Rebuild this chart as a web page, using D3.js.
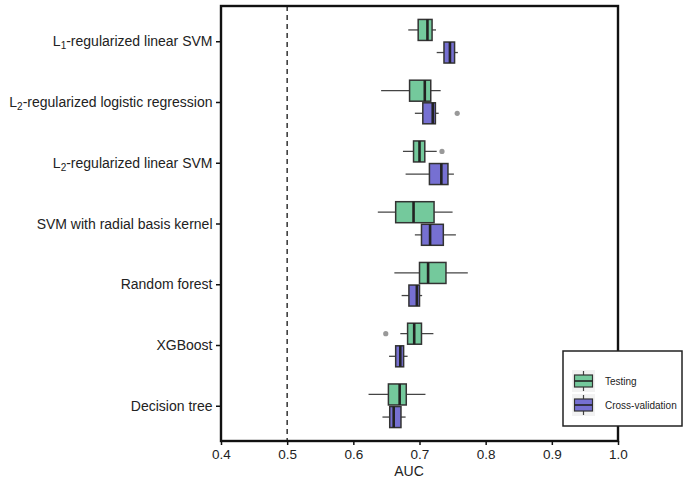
<!DOCTYPE html>
<html>
<head>
<meta charset="utf-8">
<script src="https://cdn.jsdelivr.net/npm/d3@7"></script>
<style>
  body { margin: 0; background: #fff; }
  text { font-family: "Liberation Sans", Arial, sans-serif; fill: #222; }
</style>
</head>
<body>
<svg width="683" height="478"></svg>
<script>
// models, top to bottom
var models = ['L1 SVM', 'L2 LR', 'L2 SVM', 'RBF SVM', 'RF', 'XGB', 'DT'];
var labels = [
  ['L', '1', '-regularized linear SVM'],
  ['L', '2', '-regularized logistic regression'],
  ['L', '2', '-regularized linear SVM'],
  ['SVM with radial basis kernel'],
  ['Random forest'],
  ['XGBoost'],
  ['Decision tree']
];

// [whisker low, q1, median, q3, whisker high]
var testing = [
  [0.683, 0.698, 0.712, 0.719, 0.725],
  [0.642, 0.685, 0.708, 0.717, 0.732],
  [0.675, 0.691, 0.700, 0.708, 0.726],
  [0.637, 0.664, 0.691, 0.722, 0.750],
  [0.662, 0.700, 0.713, 0.740, 0.773],
  [0.671, 0.682, 0.692, 0.703, 0.721],
  [0.623, 0.653, 0.670, 0.680, 0.709]
];
var crossval = [
  [0.726, 0.737, 0.746, 0.753, 0.758],
  [0.693, 0.705, 0.720, 0.724, 0.729],
  [0.679, 0.715, 0.733, 0.743, 0.752],
  [0.693, 0.703, 0.716, 0.736, 0.755],
  [0.673, 0.684, 0.696, 0.700, 0.704],
  [0.654, 0.664, 0.671, 0.676, 0.682],
  [0.644, 0.655, 0.661, 0.672, 0.679]
];
// outliers: [model index, series, value]
var outliers = [
  [1, 'cv', 0.757],
  [2, 'test', 0.734],
  [5, 'test', 0.649]
];
var xTicks = [0.4, 0.5, 0.6, 0.7, 0.8, 0.9, 1.0];

var green = '#74c99c', purple = '#7670d2';

var svg = d3.select('svg');
var plotL = 221, plotR = 618, plotT = 6, plotB = 441;

var x = d3.scaleLinear().domain([0.4, 1.0]).range([plotL, plotR]);
var y = d3.scalePoint().domain(models).range([plotT, plotB]).padding(0.58);

// dashed reference line
svg.append('line')
  .attr('x1', x(0.5)).attr('x2', x(0.5))
  .attr('y1', plotT).attr('y2', plotB)
  .attr('stroke', '#333').attr('stroke-width', 1.5)
  .attr('stroke-dasharray', '5,4');

function drawBoxes(data, offset, color) {
  var g = svg.append('g');
  var groups = g.selectAll('g.box')
    .data(data)
    .enter()
    .append('g')
    .attr('transform', function(d, i) { return 'translate(0,' + (y(models[i]) + offset) + ')'; });

  groups.append('line')
    .attr('x1', function(d) { return x(d[0]); })
    .attr('x2', function(d) { return x(d[4]); })
    .attr('stroke', '#444').attr('stroke-width', 1.3);

  groups.append('rect')
    .attr('x', function(d) { return x(d[1]); })
    .attr('width', function(d) { return x(d[3]) - x(d[1]); })
    .attr('y', -10.5).attr('height', 21)
    .attr('fill', color).attr('stroke', '#333').attr('stroke-width', 1.5);

  groups.append('line')
    .attr('x1', function(d) { return x(d[2]); })
    .attr('x2', function(d) { return x(d[2]); })
    .attr('y1', -10.5).attr('y2', 10.5)
    .attr('stroke', '#222').attr('stroke-width', 2.6);
}
drawBoxes(testing, -11.3, green);
drawBoxes(crossval, 11.3, purple);

svg.selectAll('circle.outlier')
  .data(outliers)
  .enter()
  .append('circle')
  .attr('cx', function(d) { return x(d[2]); })
  .attr('cy', function(d) { return y(models[d[0]]) + (d[1] == 'cv' ? 11.3 : -11.3); })
  .attr('r', 2.6)
  .attr('fill', '#999');

// frame
svg.append('rect')
  .attr('x', plotL).attr('y', plotT)
  .attr('width', plotR - plotL).attr('height', plotB - plotT)
  .attr('fill', 'none').attr('stroke', '#111').attr('stroke-width', 2.4);

// x axis
var xAxis = svg.append('g')
  .attr('transform', 'translate(0,' + plotB + ')')
  .call(d3.axisBottom(x).tickValues(xTicks).tickFormat(d3.format('.1f')).tickSizeOuter(0).tickSize(4).tickPadding(4));
xAxis.select('.domain').remove();
xAxis.selectAll('line').attr('stroke', '#111').attr('stroke-width', 1.5);
xAxis.selectAll('text').attr('font-size', 13.5).attr('fill', '#222')
  .style('font-family', '"Liberation Sans", Arial, sans-serif');

svg.append('text')
  .attr('x', 409).attr('y', 476)
  .attr('text-anchor', 'middle')
  .attr('font-size', 14)
  .text('AUC');

// y axis
var yAxis = svg.append('g')
  .attr('transform', 'translate(' + plotL + ',0)')
  .call(d3.axisLeft(y).tickSize(5).tickSizeOuter(0).tickFormat(''));
yAxis.select('.domain').remove();
yAxis.selectAll('line').attr('stroke', '#111').attr('stroke-width', 1.5);

svg.selectAll('text.ylab')
  .data(labels)
  .enter()
  .append('text')
  .attr('class', 'ylab')
  .attr('x', plotL - 8.5)
  .attr('y', function(d, i) { return y(models[i]) + 5; })
  .attr('text-anchor', 'end')
  .attr('font-size', 14)
  .each(function(d) {
    var t = d3.select(this);
    if (d.length == 1) { t.text(d[0]); return; }
    t.append('tspan').text(d[0]);
    t.append('tspan').attr('font-size', 10).attr('dy', 3).text(d[1]);
    t.append('tspan').attr('dy', -3).text(d[2]);
  });

// legend
var lg = svg.append('g');
lg.append('rect')
  .attr('x', 563).attr('y', 351).attr('width', 119).attr('height', 75)
  .attr('fill', '#fff').attr('stroke', '#222').attr('stroke-width', 1.5);
var items = [['Testing', green], ['Cross-validation', purple]];
items.forEach(function(it, i) {
  var cy = 381 + i * 24;
  lg.append('rect').attr('x', 572).attr('y', cy - 11).attr('width', 23).attr('height', 22).attr('fill', '#f2f2f2');
  lg.append('line').attr('x1', 583.5).attr('x2', 583.5).attr('y1', cy - 10).attr('y2', cy + 10)
    .attr('stroke', '#444').attr('stroke-width', 1.2);
  lg.append('rect').attr('x', 574.5).attr('y', cy - 6).attr('width', 18).attr('height', 12)
    .attr('fill', it[1]).attr('stroke', '#333').attr('stroke-width', 1.2);
  lg.append('line').attr('x1', 574.5).attr('x2', 592.5).attr('y1', cy).attr('y2', cy)
    .attr('stroke', '#222').attr('stroke-width', 1.6);
  lg.append('text').attr('x', 605).attr('y', cy + 3.5).attr('font-size', 10).text(it[0]);
});
</script>
</body>
</html>
